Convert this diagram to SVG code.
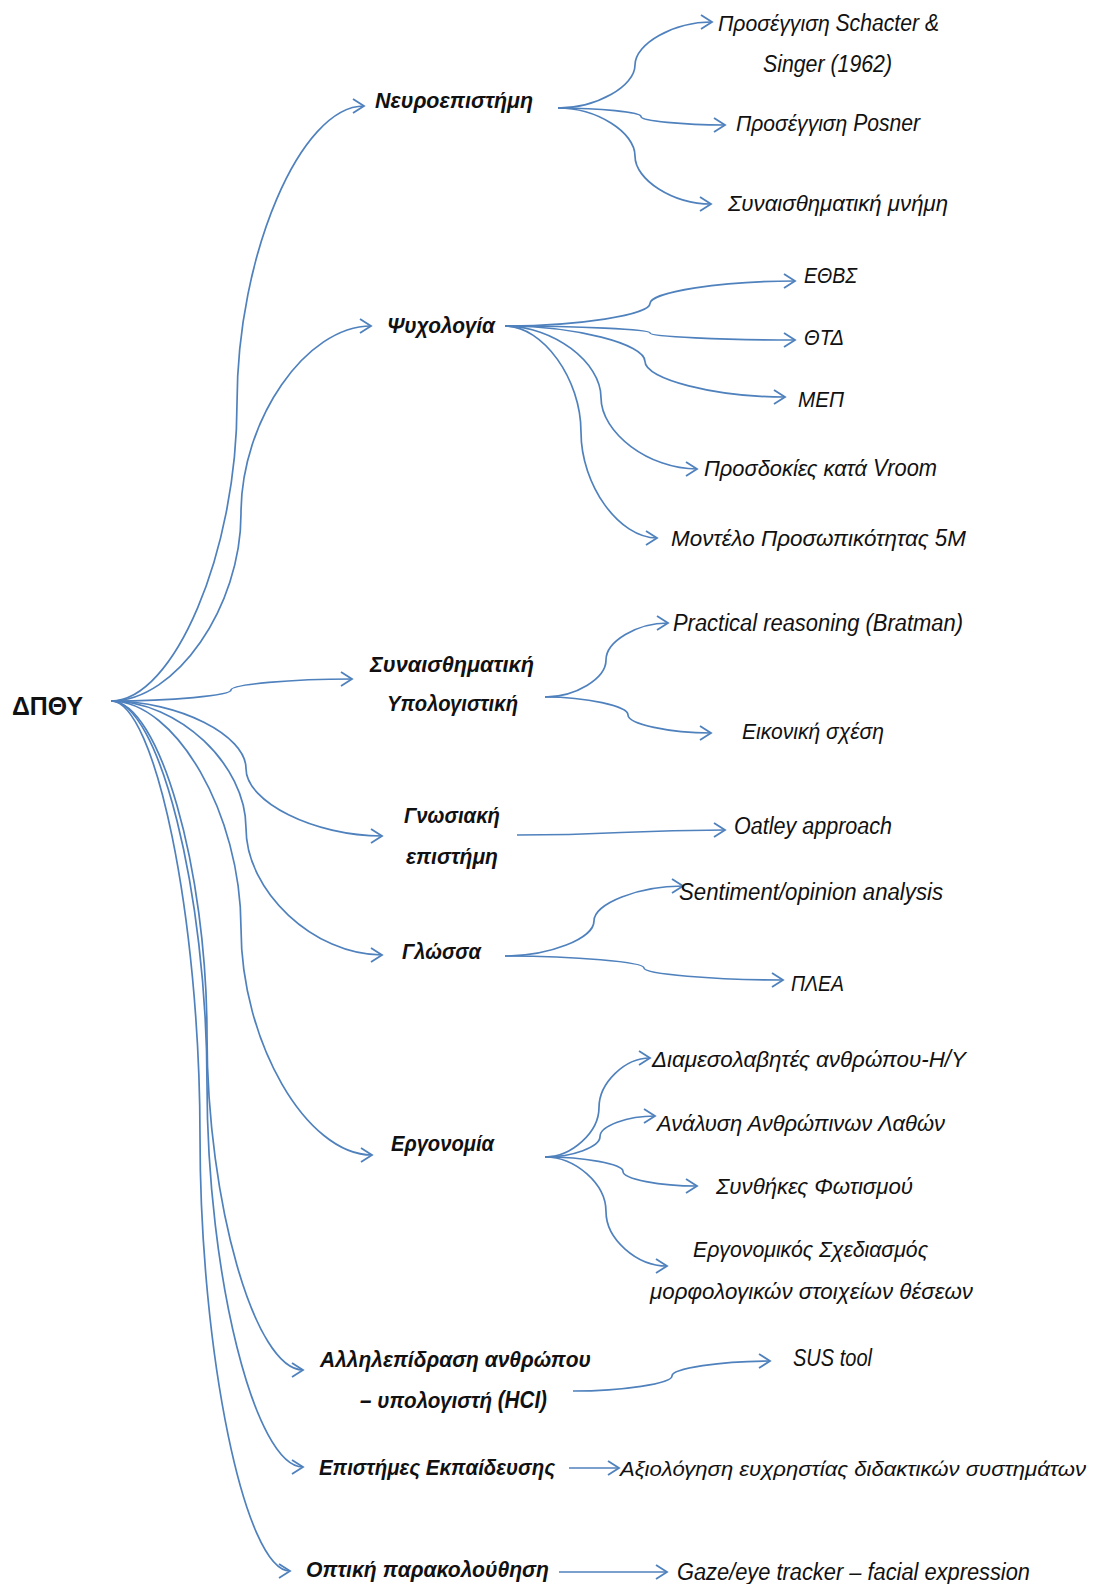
<svg xmlns="http://www.w3.org/2000/svg" width="1096" height="1584" viewBox="0 0 1096 1584">
  <style>
    .bg { fill: #ffffff; }
    .link { fill: none; stroke: #4F81BD; stroke-width: 1.7; marker-end: url(#open-arrow); }
    text { font-family: "Liberation Sans", Arial, sans-serif; fill: #111111; }
    .root { font-size: 25px; font-weight: bold; }
    .topic { font-size: 23px; font-weight: bold; font-style: italic; }
    .leaf { font-size: 23px; font-style: italic; }
    .leaf-long { font-size: 21px; font-style: italic; }
  </style>
  <defs>
    <marker id="open-arrow" viewBox="-12 -8 14 16" markerWidth="14" markerHeight="16" refX="0" refY="0" orient="auto" markerUnits="userSpaceOnUse">
      <path d="M-11,-7 L0,0 L-11,7" fill="none" stroke="#4F81BD" stroke-width="1.8" stroke-linejoin="miter"/>
    </marker>
  </defs>
  <rect class="bg" x="0" y="0" width="1096" height="1584"/>

  <!-- connectors -->
  <g id="connectors">
    <!-- root to topics -->
    <path class="link" d="M111,701 C174,701 237,552 237,403.5 C237,255 300.5,106 364,106"/>
    <path class="link" d="M111,701 C176,701 241,607 241,513.5 C241,420 306,326 371,326"/>
    <path class="link" d="M111,701 C171,701 231,695.5 231,690 C231,684.5 291.5,679 352,679"/>
    <path class="link" d="M111,701 C178.5,701 246,735 246,768.5 C246,802 314,836 382,836"/>
    <path class="link" d="M111,701 C178.5,701 246,764.5 246,828 C246,891.5 314,955 382,955"/>
    <path class="link" d="M111,701 C176,701 241,814.5 241,928 C241,1041.5 306.5,1155 372,1155"/>
    <path class="link" d="M111,701 C159,701 207,868 207,1035.5 C207,1203 255,1370 303,1370"/>
    <path class="link" d="M111,701 C159,701 207,892.5 207,1084 C207,1275.5 255,1467 303,1467"/>
    <path class="link" d="M111,701 C155.5,701 200,918.5 200,1136 C200,1353.5 245,1571 290,1571"/>
    <!-- neuroscience -->
    <path class="link" d="M558,108 C596.5,108 635,86.5 635,65 C635,43.5 673.5,22 712,22"/>
    <path class="link" d="M558,108 C599.5,108 641,112 641,116.5 C641,121 683,125 725,125"/>
    <path class="link" d="M558,108 C596.5,108 635,132 635,156 C635,180 673,204 711,204"/>
    <!-- psychology -->
    <path class="link" d="M505,326 C577.5,326 650,315 650,303.5 C650,292 722.5,281 795,281"/>
    <path class="link" d="M505,326 C577.5,326 650,329.5 650,333 C650,336.5 722.5,340 795,340"/>
    <path class="link" d="M505,326 C575,326 645,344 645,361.5 C645,379 715,397 785,397"/>
    <path class="link" d="M505,326 C553,326 601,362 601,397.5 C601,433 649,469 697,469"/>
    <path class="link" d="M505,326 C543,326 581,379 581,432 C581,485 619,538 657,538"/>
    <!-- affective computing -->
    <path class="link" d="M545,697 C575.5,697 606,678.5 606,660 C606,641.5 637,623 668,623"/>
    <path class="link" d="M545,697 C586.5,697 628,706 628,715 C628,724 669.5,733 711,733"/>
    <!-- cognitive science -->
    <path class="link" d="M517,835 C621,835 621,830 725,830"/>
    <!-- language -->
    <path class="link" d="M505,956 C549.5,956 594,938.5 594,921 C594,903.5 638.5,886 683,886"/>
    <path class="link" d="M505,956 C574.5,956 644,962 644,968 C644,974 713.5,980 783,980"/>
    <!-- ergonomics -->
    <path class="link" d="M545,1157 C572,1157 599,1132 599,1107.5 C599,1083 624.5,1058 650,1058"/>
    <path class="link" d="M545,1157 C572.5,1157 600,1147 600,1136.5 C600,1126 627.5,1116 655,1116"/>
    <path class="link" d="M545,1157 C584,1157 623,1164 623,1171.5 C623,1179 660,1186 697,1186"/>
    <path class="link" d="M545,1157 C575.5,1157 606,1184 606,1211.5 C606,1239 636.5,1266 667,1266"/>
    <!-- HCI, education, eye tracking -->
    <path class="link" d="M573,1391 C622.5,1391 672,1383.5 672,1376 C672,1368.5 721,1361 770,1361"/>
    <path class="link" d="M569,1468 L619,1468"/>
    <path class="link" d="M559,1572 L667,1572"/>
  </g>

  <!-- root -->
  <g id="node-root">
    <text class="root" x="12" y="715" textLength="71" lengthAdjust="spacingAndGlyphs">ΔΠΘΥ</text>
  </g>

  <!-- topics -->
  <g id="node-neuro">
    <text class="topic" x="375" y="108" textLength="158" lengthAdjust="spacingAndGlyphs">Νευροεπιστήμη</text>
  </g>
  <g id="node-psych">
    <text class="topic" x="387" y="333" textLength="108" lengthAdjust="spacingAndGlyphs">Ψυχολογία</text>
  </g>
  <g id="node-affective">
    <text class="topic" x="370" y="672" textLength="164" lengthAdjust="spacingAndGlyphs">Συναισθηματική</text>
    <text class="topic" x="387" y="711" textLength="131" lengthAdjust="spacingAndGlyphs">Υπολογιστική</text>
  </g>
  <g id="node-cognitive">
    <text class="topic" x="404" y="823" textLength="96" lengthAdjust="spacingAndGlyphs">Γνωσιακή</text>
    <text class="topic" x="406" y="864" textLength="92" lengthAdjust="spacingAndGlyphs">επιστήμη</text>
  </g>
  <g id="node-language">
    <text class="topic" x="402" y="959" textLength="79" lengthAdjust="spacingAndGlyphs">Γλώσσα</text>
  </g>
  <g id="node-ergonomics">
    <text class="topic" x="391" y="1151" textLength="103" lengthAdjust="spacingAndGlyphs">Εργονομία</text>
  </g>
  <g id="node-hci">
    <text class="topic" x="320" y="1367" textLength="271" lengthAdjust="spacingAndGlyphs">Αλληλεπίδραση ανθρώπου</text>
    <text class="topic" x="360" y="1408" textLength="187" lengthAdjust="spacingAndGlyphs">– υπολογιστή (HCI)</text>
  </g>
  <g id="node-education">
    <text class="topic" x="319" y="1475" textLength="236" lengthAdjust="spacingAndGlyphs">Επιστήμες Εκπαίδευσης</text>
  </g>
  <g id="node-eyetracking">
    <text class="topic" x="306" y="1577" textLength="243" lengthAdjust="spacingAndGlyphs">Οπτική παρακολούθηση</text>
  </g>

  <!-- neuroscience leaves -->
  <g id="node-schacter">
    <text class="leaf" x="718" y="31" textLength="221" lengthAdjust="spacingAndGlyphs">Προσέγγιση Schacter &amp;</text>
    <text class="leaf" x="763" y="72" textLength="129" lengthAdjust="spacingAndGlyphs">Singer (1962)</text>
  </g>
  <g id="node-posner">
    <text class="leaf" x="736" y="131" textLength="184" lengthAdjust="spacingAndGlyphs">Προσέγγιση Posner</text>
  </g>
  <g id="node-memory">
    <text class="leaf" x="728" y="211" textLength="220" lengthAdjust="spacingAndGlyphs">Συναισθηματική μνήμη</text>
  </g>

  <!-- psychology leaves -->
  <g id="node-ethvs">
    <text class="leaf" x="804" y="283" textLength="53" lengthAdjust="spacingAndGlyphs">ΕΘΒΣ</text>
  </g>
  <g id="node-thtd">
    <text class="leaf" x="804" y="345" textLength="40" lengthAdjust="spacingAndGlyphs">ΘΤΔ</text>
  </g>
  <g id="node-mep">
    <text class="leaf" x="798" y="407" textLength="46" lengthAdjust="spacingAndGlyphs">ΜΕΠ</text>
  </g>
  <g id="node-vroom">
    <text class="leaf" x="704" y="476" textLength="233" lengthAdjust="spacingAndGlyphs">Προσδοκίες κατά Vroom</text>
  </g>
  <g id="node-bigfive">
    <text class="leaf" x="671" y="546" textLength="295" lengthAdjust="spacingAndGlyphs">Μοντέλο Προσωπικότητας 5Μ</text>
  </g>

  <!-- affective computing leaves -->
  <g id="node-bratman">
    <text class="leaf" x="673" y="631" textLength="290" lengthAdjust="spacingAndGlyphs">Practical reasoning (Bratman)</text>
  </g>
  <g id="node-virtual">
    <text class="leaf" x="742" y="739" textLength="142" lengthAdjust="spacingAndGlyphs">Εικονική σχέση</text>
  </g>

  <!-- cognitive science leaf -->
  <g id="node-oatley">
    <text class="leaf" x="734" y="834" textLength="158" lengthAdjust="spacingAndGlyphs">Oatley approach</text>
  </g>

  <!-- language leaves -->
  <g id="node-sentiment">
    <text class="leaf" x="679" y="900" textLength="264" lengthAdjust="spacingAndGlyphs">Sentiment/opinion analysis</text>
  </g>
  <g id="node-plea">
    <text class="leaf" x="791" y="991" textLength="53" lengthAdjust="spacingAndGlyphs">ΠΛΕΑ</text>
  </g>

  <!-- ergonomics leaves -->
  <g id="node-mediators">
    <text class="leaf" x="652" y="1067" textLength="314" lengthAdjust="spacingAndGlyphs">Διαμεσολαβητές ανθρώπου-Η/Υ</text>
  </g>
  <g id="node-errors">
    <text class="leaf" x="657" y="1131" textLength="288" lengthAdjust="spacingAndGlyphs">Ανάλυση Ανθρώπινων Λαθών</text>
  </g>
  <g id="node-lighting">
    <text class="leaf" x="716" y="1194" textLength="197" lengthAdjust="spacingAndGlyphs">Συνθήκες Φωτισμού</text>
  </g>
  <g id="node-workstation">
    <text class="leaf" x="693" y="1257" textLength="235" lengthAdjust="spacingAndGlyphs">Εργονομικός Σχεδιασμός</text>
    <text class="leaf" x="650" y="1299" textLength="323" lengthAdjust="spacingAndGlyphs">μορφολογικών στοιχείων θέσεων</text>
  </g>

  <!-- remaining leaves -->
  <g id="node-sus">
    <text class="leaf" x="793" y="1366" textLength="79" lengthAdjust="spacingAndGlyphs">SUS tool</text>
  </g>
  <g id="node-usability">
    <text class="leaf-long" x="620" y="1476" textLength="466" lengthAdjust="spacingAndGlyphs">Αξιολόγηση ευχρηστίας διδακτικών συστημάτων</text>
  </g>
  <g id="node-gaze">
    <text class="leaf" x="677" y="1580" textLength="353" lengthAdjust="spacingAndGlyphs">Gaze/eye tracker – facial expression</text>
  </g>
</svg>
